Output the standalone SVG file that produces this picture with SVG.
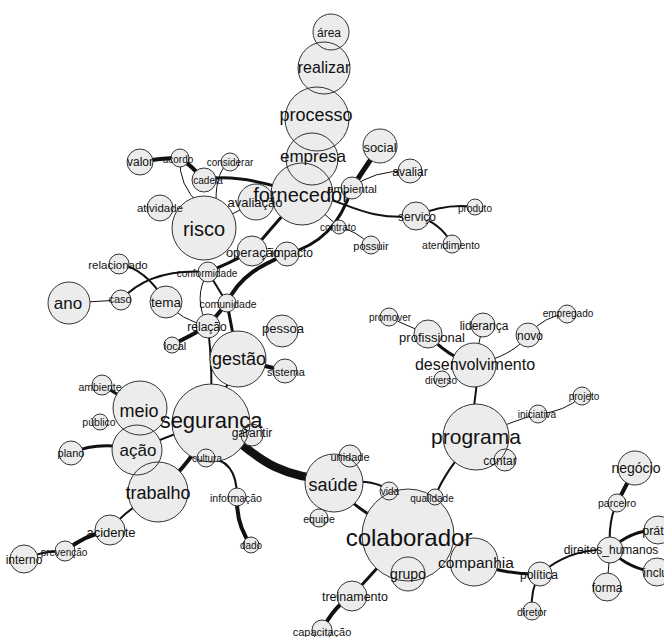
<svg xmlns="http://www.w3.org/2000/svg" xmlns:xlink="http://www.w3.org/1999/xlink" width="664" height="637" viewBox="0 0 664 637">
<style>
.e{fill:none;stroke:#111;stroke-linecap:round}
.w1{stroke-width:1}.w2{stroke-width:2}.w3{stroke-width:3}.w4{stroke-width:4}.w5{stroke-width:5}.w9{stroke-width:8.5}
.fills{fill:#ececec;stroke:none}
.node{fill:none;stroke:#333;stroke-width:1}
.node text{fill:#111;stroke:none;font-family:"Liberation Sans",Arial,sans-serif;text-anchor:middle;dominant-baseline:central}
</style>
<rect width="664" height="637" fill="#fff"/>
<g id="connectors">
<path class="e w4" d="M140,162 Q160,158 180,158"/>
<path class="e w4" d="M180,158 Q192,166 204,180"/>
<path class="e w3" d="M204,180 Q235,172 302,194"/>
<path class="e w1" d="M180,158 Q178,185 200,205"/>
<path class="e w1" d="M230,162 Q216,170 216,200"/>
<path class="e w1" d="M204,228 L256,202"/>
<path class="e w3" d="M302,194 Q280,218 252,251"/>
<path class="e w3" d="M287,254 C320,245 340,225 352,188"/>
<path class="e w1" d="M302,194 L339,227"/>
<path class="e w1" d="M339,227 Q355,230 371,245"/>
<path class="e w2" d="M302,194 C340,195 360,222 416,216"/>
<path class="e w5" d="M352,188 Q362,172 380,146"/>
<path class="e w1" d="M352,188 Q372,170 410,171"/>
<path class="e w2" d="M416,216 Q445,203 475,207"/>
<path class="e w2" d="M416,216 Q440,222 452,244"/>
<path class="e w3" d="M252,251 Q232,262 208,272"/>
<path class="e w4" d="M287,254 C262,265 240,275 227,303"/>
<path class="e w3" d="M227,303 Q232,330 238,359"/>
<path class="e w2" d="M208,272 L227,303"/>
<path class="e w2" d="M208,272 Q150,268 121,300"/>
<path class="e w1" d="M121,300 L69,303"/>
<path class="e w2" d="M119,264 Q145,268 166,302"/>
<path class="e w1" d="M166,302 Q180,320 208,326"/>
<path class="e w1" d="M208,272 Q192,298 208,326"/>
<path class="e w4" d="M227,303 L208,326"/>
<path class="e w4" d="M208,326 Q190,336 172,345"/>
<path class="e w4" d="M238,359 L285,371"/>
<path class="e w2" d="M208,326 Q213,370 211,423"/>
<path class="e w2" d="M238,359 L211,423"/>
<path class="e w9" d="M211,423 C245,440 262,478 334,480"/>
<path class="e w2" d="M211,423 Q175,432 137,450"/>
<path class="e w4" d="M211,423 Q193,462 158,492"/>
<path class="e w2" d="M206,458 Q237,458 237,497"/>
<path class="e w4" d="M237,497 Q236,525 251,545"/>
<path class="e w3" d="M102,385 L140,408"/>
<path class="e w3" d="M71,453 Q100,440 137,450"/>
<path class="e w2" d="M158,492 Q125,510 110,530"/>
<path class="e w4" d="M110,530 Q85,535 65,551"/>
<path class="e w2" d="M65,551 Q45,550 24,559"/>
<path class="e w2" d="M334,483 Q375,478 389,491"/>
<path class="e w3" d="M334,483 Q352,510 408,535"/>
<path class="e w2" d="M435,497 Q445,470 476,437"/>
<path class="e w3" d="M408,535 Q375,570 352,596"/>
<path class="e w4" d="M352,596 Q335,605 322,630"/>
<path class="e w3" d="M474,562 Q505,575 540,574"/>
<path class="e w2" d="M540,574 Q570,548 610,550"/>
<path class="e w2" d="M540,574 Q530,590 532,611"/>
<path class="e w2" d="M610,550 Q608,520 617,503"/>
<path class="e w4" d="M617,503 L635,468"/>
<path class="e w3" d="M610,550 Q630,530 658,530"/>
<path class="e w3" d="M610,550 Q630,570 657,572"/>
<path class="e w1" d="M610,550 L607,587"/>
<path class="e w2" d="M476,437 C468,405 482,390 474,365"/>
<path class="e w1" d="M476,437 Q515,420 538,414"/>
<path class="e w1" d="M538,414 Q565,412 582,396"/>
<path class="e w3" d="M474,365 Q445,355 428,334"/>
<path class="e w1" d="M428,334 Q405,325 389,317"/>
<path class="e w1" d="M474,365 L483,325"/>
<path class="e w1" d="M474,365 Q515,355 528,335"/>
<path class="e w1" d="M528,335 Q545,315 567,314"/>
</g>
<g id="node-fills" class="fills">
<use href="#c-area"/><use href="#c-realizar"/><use href="#c-processo"/><use href="#c-empresa"/><use href="#c-social"/><use href="#c-avaliar"/><use href="#c-fornecedor"/><use href="#c-ambiental"/><use href="#c-servico"/><use href="#c-produto"/><use href="#c-atendimento"/><use href="#c-contrato"/><use href="#c-possuir"/><use href="#c-valor"/><use href="#c-acordo"/><use href="#c-considerar"/><use href="#c-cadeia"/><use href="#c-atividade"/><use href="#c-risco"/><use href="#c-avaliacao"/><use href="#c-operacao"/><use href="#c-impacto"/><use href="#c-conformidade"/><use href="#c-comunidade"/><use href="#c-relacao"/><use href="#c-local"/><use href="#c-tema"/><use href="#c-caso"/><use href="#c-relacionado"/><use href="#c-ano"/><use href="#c-gestao"/><use href="#c-pessoa"/><use href="#c-sistema"/><use href="#c-seguranca"/><use href="#c-garantir"/><use href="#c-cultura"/><use href="#c-meio"/><use href="#c-ambiente"/><use href="#c-publico"/><use href="#c-acao"/><use href="#c-plano"/><use href="#c-trabalho"/><use href="#c-informacao"/><use href="#c-dado"/><use href="#c-acidente"/><use href="#c-prevencao"/><use href="#c-interno"/><use href="#c-saude"/><use href="#c-unidade"/><use href="#c-equipe"/><use href="#c-vida"/><use href="#c-colaborador"/><use href="#c-qualidade"/><use href="#c-grupo"/><use href="#c-companhia"/><use href="#c-treinamento"/><use href="#c-capacitacao"/><use href="#c-programa"/><use href="#c-contar"/><use href="#c-iniciativa"/><use href="#c-projeto"/><use href="#c-desenvolvimento"/><use href="#c-diverso"/><use href="#c-lideranca"/><use href="#c-profissional"/><use href="#c-promover"/><use href="#c-novo"/><use href="#c-empregado"/><use href="#c-negocio"/><use href="#c-parceiro"/><use href="#c-direitos_humanos"/><use href="#c-pratica"/><use href="#c-incluir"/><use href="#c-forma"/><use href="#c-politica"/><use href="#c-diretor"/>
</g>
<g id="nodes">
<g id="n-area" class="node"><circle id="c-area" cx="331" cy="32" r="18"/><text x="329" y="33" font-size="12">área</text></g>
<g id="n-realizar" class="node"><circle id="c-realizar" cx="324" cy="68" r="26"/><text x="324" y="67" font-size="16">realizar</text></g>
<g id="n-processo" class="node"><circle id="c-processo" cx="317" cy="119" r="32"/><text x="316" y="115" font-size="18">processo</text></g>
<g id="n-empresa" class="node"><circle id="c-empresa" cx="312" cy="159" r="26"/><text x="313" y="156" font-size="17">empresa</text></g>
<g id="n-social" class="node"><circle id="c-social" cx="380" cy="146" r="17"/><text x="380" y="147" font-size="13">social</text></g>
<g id="n-avaliar" class="node"><circle id="c-avaliar" cx="410" cy="171" r="12"/><text x="410" y="172" font-size="12">avaliar</text></g>
<g id="n-fornecedor" class="node"><circle id="c-fornecedor" cx="302" cy="194" r="31"/><text x="301" y="195" font-size="20">fornecedor</text></g>
<g id="n-ambiental" class="node"><circle id="c-ambiental" cx="352" cy="188" r="11"/><text x="352" y="189" font-size="11.5">ambiental</text></g>
<g id="n-servico" class="node"><circle id="c-servico" cx="416" cy="216" r="14"/><text x="417" y="217" font-size="12">serviço</text></g>
<g id="n-produto" class="node"><circle id="c-produto" cx="475" cy="207" r="8"/><text x="475" y="208" font-size="10">produto</text></g>
<g id="n-atendimento" class="node"><circle id="c-atendimento" cx="452" cy="244" r="9"/><text x="451" y="245" font-size="10.5">atendimento</text></g>
<g id="n-contrato" class="node"><circle id="c-contrato" cx="339" cy="227" r="7"/><text x="338" y="227" font-size="10">contrato</text></g>
<g id="n-possuir" class="node"><circle id="c-possuir" cx="371" cy="245" r="9"/><text x="371" y="246" font-size="11">possuir</text></g>
<g id="n-valor" class="node"><circle id="c-valor" cx="140" cy="162" r="13"/><text x="140" y="162" font-size="12">valor</text></g>
<g id="n-acordo" class="node"><circle id="c-acordo" cx="180" cy="158" r="9"/><text x="178" y="159" font-size="10">acordo</text></g>
<g id="n-considerar" class="node"><circle id="c-considerar" cx="230" cy="162" r="9"/><text x="230" y="162" font-size="10">considerar</text></g>
<g id="n-cadeia" class="node"><circle id="c-cadeia" cx="204" cy="180" r="12"/><text x="208" y="180" font-size="10">cadeia</text></g>
<g id="n-atividade" class="node"><circle id="c-atividade" cx="160" cy="208" r="13"/><text x="160" y="208" font-size="11.5">atividade</text></g>
<g id="n-risco" class="node"><circle id="c-risco" cx="204" cy="228" r="32"/><text x="204" y="229" font-size="20">risco</text></g>
<g id="n-avaliacao" class="node"><circle id="c-avaliacao" cx="256" cy="202" r="18"/><text x="255" y="202" font-size="13">avaliação</text></g>
<g id="n-operacao" class="node"><circle id="c-operacao" cx="252" cy="251" r="15"/><text x="253" y="252" font-size="13">operação</text></g>
<g id="n-impacto" class="node"><circle id="c-impacto" cx="287" cy="254" r="12"/><text x="292" y="253" font-size="12">impacto</text></g>
<g id="n-conformidade" class="node"><circle id="c-conformidade" cx="208" cy="272" r="10"/><text x="207" y="273" font-size="10">conformidade</text></g>
<g id="n-comunidade" class="node"><circle id="c-comunidade" cx="227" cy="303" r="9"/><text x="228" y="304" font-size="10.5">comunidade</text></g>
<g id="n-relacao" class="node"><circle id="c-relacao" cx="208" cy="326" r="12"/><text x="207" y="327" font-size="12">relação</text></g>
<g id="n-local" class="node"><circle id="c-local" cx="172" cy="345" r="8"/><text x="175" y="346" font-size="11">local</text></g>
<g id="n-tema" class="node"><circle id="c-tema" cx="166" cy="302" r="16"/><text x="166" y="302" font-size="13.5">tema</text></g>
<g id="n-caso" class="node"><circle id="c-caso" cx="121" cy="300" r="10"/><text x="120" y="299" font-size="11">caso</text></g>
<g id="n-relacionado" class="node"><circle id="c-relacionado" cx="119" cy="264" r="10"/><text x="118" y="265" font-size="11.5">relacionado</text></g>
<g id="n-ano" class="node"><circle id="c-ano" cx="69" cy="303" r="21"/><text x="68" y="303" font-size="17">ano</text></g>
<g id="n-gestao" class="node"><circle id="c-gestao" cx="238" cy="359" r="28"/><text x="239" y="359" font-size="18">gestão</text></g>
<g id="n-pessoa" class="node"><circle id="c-pessoa" cx="282" cy="331" r="16"/><text x="283" y="328" font-size="13">pessoa</text></g>
<g id="n-sistema" class="node"><circle id="c-sistema" cx="285" cy="371" r="12"/><text x="286" y="372" font-size="11">sistema</text></g>
<g id="n-seguranca" class="node"><circle id="c-seguranca" cx="211" cy="423" r="39"/><text x="211" y="420" font-size="22">segurança</text></g>
<g id="n-garantir" class="node"><circle id="c-garantir" cx="252" cy="435" r="11"/><text x="252" y="433" font-size="12">garantir</text></g>
<g id="n-cultura" class="node"><circle id="c-cultura" cx="206" cy="458" r="9"/><text x="207" y="458" font-size="10">cultura</text></g>
<g id="n-meio" class="node"><circle id="c-meio" cx="140" cy="408" r="27"/><text x="139" y="411" font-size="18">meio</text></g>
<g id="n-ambiente" class="node"><circle id="c-ambiente" cx="102" cy="385" r="10"/><text x="100" y="387" font-size="10.5">ambiente</text></g>
<g id="n-publico" class="node"><circle id="c-publico" cx="100" cy="422" r="8"/><text x="99" y="422" font-size="10.5">público</text></g>
<g id="n-acao" class="node"><circle id="c-acao" cx="137" cy="450" r="25"/><text x="138" y="450" font-size="17">ação</text></g>
<g id="n-plano" class="node"><circle id="c-plano" cx="71" cy="453" r="12"/><text x="71" y="453" font-size="11">plano</text></g>
<g id="n-trabalho" class="node"><circle id="c-trabalho" cx="158" cy="492" r="30"/><text x="158" y="493" font-size="18">trabalho</text></g>
<g id="n-informacao" class="node"><circle id="c-informacao" cx="237" cy="497" r="9"/><text x="236" y="498" font-size="10.5">informação</text></g>
<g id="n-dado" class="node"><circle id="c-dado" cx="251" cy="545" r="8"/><text x="251" y="545" font-size="10">dado</text></g>
<g id="n-acidente" class="node"><circle id="c-acidente" cx="110" cy="530" r="15"/><text x="111" y="532" font-size="13">acidente</text></g>
<g id="n-prevencao" class="node"><circle id="c-prevencao" cx="65" cy="551" r="10"/><text x="64" y="552" font-size="10">prevenção</text></g>
<g id="n-interno" class="node"><circle id="c-interno" cx="24" cy="559" r="14"/><text x="24" y="560" font-size="12">interno</text></g>
<g id="n-saude" class="node"><circle id="c-saude" cx="334" cy="483" r="29"/><text x="333" y="485" font-size="18">saúde</text></g>
<g id="n-unidade" class="node"><circle id="c-unidade" cx="350" cy="456" r="11"/><text x="350" y="457" font-size="11">unidade</text></g>
<g id="n-equipe" class="node"><circle id="c-equipe" cx="319" cy="518" r="9"/><text x="319" y="519" font-size="10.5">equipe</text></g>
<g id="n-vida" class="node"><circle id="c-vida" cx="389" cy="491" r="9"/><text x="390" y="491" font-size="10">vida</text></g>
<g id="n-colaborador" class="node"><circle id="c-colaborador" cx="408" cy="535" r="46"/><text x="409" y="537" font-size="24">colaborador</text></g>
<g id="n-qualidade" class="node"><circle id="c-qualidade" cx="435" cy="497" r="8"/><text x="432" y="498" font-size="10">qualidade</text></g>
<g id="n-grupo" class="node"><circle id="c-grupo" cx="408" cy="574" r="17"/><text x="408" y="574" font-size="14">grupo</text></g>
<g id="n-companhia" class="node"><circle id="c-companhia" cx="474" cy="562" r="24"/><text x="476" y="562" font-size="15.5">companhia</text></g>
<g id="n-treinamento" class="node"><circle id="c-treinamento" cx="352" cy="596" r="15"/><text x="355" y="597" font-size="12.5">treinamento</text></g>
<g id="n-capacitacao" class="node"><circle id="c-capacitacao" cx="322" cy="630" r="10"/><text x="322" y="632" font-size="11">capacitação</text></g>
<g id="n-programa" class="node"><circle id="c-programa" cx="476" cy="437" r="33"/><text x="476" y="436" font-size="21">programa</text></g>
<g id="n-contar" class="node"><circle id="c-contar" cx="505" cy="460" r="11"/><text x="500" y="461" font-size="12">contar</text></g>
<g id="n-iniciativa" class="node"><circle id="c-iniciativa" cx="538" cy="414" r="9"/><text x="537" y="414" font-size="10">iniciativa</text></g>
<g id="n-projeto" class="node"><circle id="c-projeto" cx="582" cy="396" r="9"/><text x="584" y="396" font-size="10">projeto</text></g>
<g id="n-desenvolvimento" class="node"><circle id="c-desenvolvimento" cx="474" cy="365" r="22"/><text x="475" y="364" font-size="16">desenvolvimento</text></g>
<g id="n-diverso" class="node"><circle id="c-diverso" cx="442" cy="379" r="8"/><text x="441" y="380" font-size="10">diverso</text></g>
<g id="n-lideranca" class="node"><circle id="c-lideranca" cx="483" cy="325" r="12"/><text x="484" y="326" font-size="12">liderança</text></g>
<g id="n-profissional" class="node"><circle id="c-profissional" cx="428" cy="334" r="14"/><text x="432" y="337" font-size="13">profissional</text></g>
<g id="n-promover" class="node"><circle id="c-promover" cx="389" cy="317" r="9"/><text x="390" y="317" font-size="10">promover</text></g>
<g id="n-novo" class="node"><circle id="c-novo" cx="528" cy="335" r="12"/><text x="530" y="336" font-size="12">novo</text></g>
<g id="n-empregado" class="node"><circle id="c-empregado" cx="567" cy="314" r="9"/><text x="568" y="313" font-size="10">empregado</text></g>
<g id="n-negocio" class="node"><circle id="c-negocio" cx="635" cy="468" r="17"/><text x="636" y="468" font-size="14">negócio</text></g>
<g id="n-parceiro" class="node"><circle id="c-parceiro" cx="617" cy="503" r="9"/><text x="617" y="503" font-size="10.5">parceiro</text></g>
<g id="n-direitos_humanos" class="node"><circle id="c-direitos_humanos" cx="610" cy="550" r="13"/><text x="611" y="550" font-size="12">direitos_humanos</text></g>
<g id="n-pratica" class="node"><circle id="c-pratica" cx="658" cy="530" r="14"/><text x="661" y="531" font-size="12.5">prática</text></g>
<g id="n-incluir" class="node"><circle id="c-incluir" cx="657" cy="572" r="14"/><text x="659" y="573" font-size="12">incluir</text></g>
<g id="n-forma" class="node"><circle id="c-forma" cx="607" cy="587" r="14"/><text x="607" y="588" font-size="12">forma</text></g>
<g id="n-politica" class="node"><circle id="c-politica" cx="540" cy="574" r="12"/><text x="539" y="575" font-size="12">política</text></g>
<g id="n-diretor" class="node"><circle id="c-diretor" cx="532" cy="611" r="9"/><text x="532" y="612" font-size="10.5">diretor</text></g>
</g>
</svg>
